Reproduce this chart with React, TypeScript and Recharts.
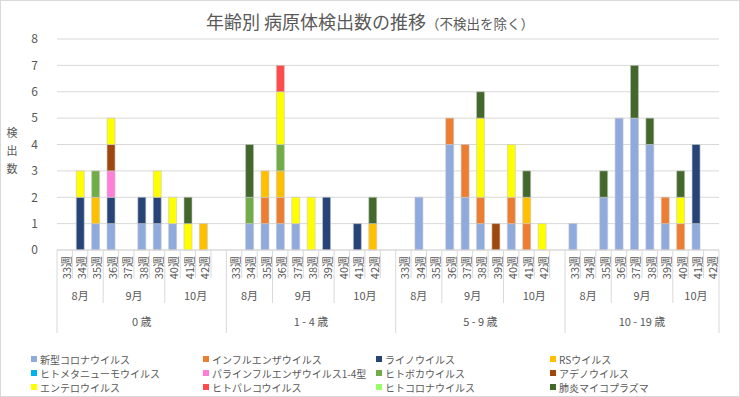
import React from 'react';
import { BarChart, Bar, XAxis, YAxis, CartesianGrid, Legend } from 'recharts';

const ageGroups = ['0 歳', '1 - 4 歳', '5 - 9 歳', '10 - 19 歳'];
const weeks = ['33週', '34週', '35週', '36週', '37週', '38週', '39週', '40週', '41週', '42週'];
const weekMonths = ['8月', '8月', '8月', '9月', '9月', '9月', '9月', '10月', '10月', '10月'];

const seriesNames = [
  '新型コロナウイルス',
  'インフルエンザウイルス',
  'ライノウイルス',
  'RSウイルス',
  'ヒトメタニューモウイルス',
  'パラインフルエンザウイルス1-4型',
  'ヒトボカウイルス',
  'アデノウイルス',
  'エンテロウイルス',
  'ヒトパレコウイルス',
  'ヒトコロナウイルス',
  '肺炎マイコプラズマ',
];

const seriesColors = [
  '#8FAADC', '#ED7D31', '#264478', '#FFC000',
  '#00B0F0', '#FF7FD8', '#70AD47', '#9E480E',
  '#FFFF00', '#FF4B4B', '#99FF66', '#43682B',
];

// values per age group, weeks 33..42
const covid = [
  [0, 0, 1, 1, 0, 1, 1, 1, 0, 0],
  [0, 1, 1, 1, 1, 0, 0, 0, 0, 0],
  [0, 2, 0, 4, 2, 1, 0, 1, 0, 0],
  [1, 0, 2, 5, 5, 4, 1, 0, 1, 0],
];
const influenza = [
  [0, 0, 0, 0, 0, 0, 0, 0, 0, 0],
  [0, 0, 1, 1, 0, 0, 0, 0, 0, 0],
  [0, 0, 0, 1, 2, 1, 0, 1, 1, 0],
  [0, 0, 0, 0, 0, 0, 1, 1, 0, 0],
];
const rhino = [
  [0, 2, 0, 1, 0, 1, 1, 0, 0, 0],
  [0, 0, 0, 0, 0, 0, 2, 0, 1, 0],
  [0, 0, 0, 0, 0, 0, 0, 0, 0, 0],
  [0, 0, 0, 0, 0, 0, 0, 0, 3, 0],
];
const rsv = [
  [0, 0, 1, 0, 0, 0, 0, 0, 0, 1],
  [0, 0, 1, 1, 0, 0, 0, 0, 0, 1],
  [0, 0, 0, 0, 0, 0, 0, 0, 1, 0],
  [0, 0, 0, 0, 0, 0, 0, 0, 0, 0],
];
const hmpv = [
  [0, 0, 0, 0, 0, 0, 0, 0, 0, 0],
  [0, 0, 0, 0, 0, 0, 0, 0, 0, 0],
  [0, 0, 0, 0, 0, 0, 0, 0, 0, 0],
  [0, 0, 0, 0, 0, 0, 0, 0, 0, 0],
];
const parainfluenza = [
  [0, 0, 0, 1, 0, 0, 0, 0, 0, 0],
  [0, 0, 0, 0, 0, 0, 0, 0, 0, 0],
  [0, 0, 0, 0, 0, 0, 0, 0, 0, 0],
  [0, 0, 0, 0, 0, 0, 0, 0, 0, 0],
];
const boca = [
  [0, 0, 1, 0, 0, 0, 0, 0, 0, 0],
  [0, 1, 0, 1, 0, 0, 0, 0, 0, 0],
  [0, 0, 0, 0, 0, 0, 0, 0, 0, 0],
  [0, 0, 0, 0, 0, 0, 0, 0, 0, 0],
];
const adeno = [
  [0, 0, 0, 1, 0, 0, 0, 0, 0, 0],
  [0, 0, 0, 0, 0, 0, 0, 0, 0, 0],
  [0, 0, 0, 0, 0, 0, 1, 0, 0, 0],
  [0, 0, 0, 0, 0, 0, 0, 0, 0, 0],
];
const entero = [
  [0, 1, 0, 1, 0, 0, 1, 1, 1, 0],
  [0, 0, 0, 2, 1, 2, 0, 0, 0, 0],
  [0, 0, 0, 0, 0, 3, 0, 2, 0, 1],
  [0, 0, 0, 0, 0, 0, 0, 1, 0, 0],
];
const parecho = [
  [0, 0, 0, 0, 0, 0, 0, 0, 0, 0],
  [0, 0, 0, 1, 0, 0, 0, 0, 0, 0],
  [0, 0, 0, 0, 0, 0, 0, 0, 0, 0],
  [0, 0, 0, 0, 0, 0, 0, 0, 0, 0],
];
const humanCorona = [
  [0, 0, 0, 0, 0, 0, 0, 0, 0, 0],
  [0, 0, 0, 0, 0, 0, 0, 0, 0, 0],
  [0, 0, 0, 0, 0, 0, 0, 0, 0, 0],
  [0, 0, 0, 0, 0, 0, 0, 0, 0, 0],
];
const mycoplasma = [
  [0, 0, 0, 0, 0, 0, 0, 0, 1, 0],
  [0, 2, 0, 0, 0, 0, 0, 0, 0, 1],
  [0, 0, 0, 0, 0, 1, 0, 0, 1, 0],
  [0, 0, 1, 0, 2, 1, 0, 1, 0, 0],
];

const seriesValues = [
  covid, influenza, rhino, rsv, hmpv, parainfluenza,
  boca, adeno, entero, parecho, humanCorona, mycoplasma,
];

const yTicks = [0, 1, 2, 3, 4, 5, 6, 7, 8];

// layout
const W = 740;
const H = 397;
const MARGIN = { top: 39, right: 21, left: 12, bottom: 64 };
const Y_AXIS_W = 45;
const X_AXIS_H = 83;
const PLOT_LEFT = MARGIN.left + Y_AXIS_W;
const PLOT_W = W - PLOT_LEFT - MARGIN.right;
const PLOT_BOTTOM = H - MARGIN.bottom - X_AXIS_H;
const FONT = "'Noto Sans CJK JP', 'Noto Sans', sans-serif";
const TEXT = '#595959';
const LINE = '#D9D9D9';

type Row = { cat: string; age: number; week: string; month: string; blank: boolean; [k: string]: any };

const rows: Row[] = [];
ageGroups.forEach((_, g) => {
  weeks.forEach((wk, w) => {
    const row: Row = { cat: `${g}-${wk}`, age: g, week: wk, month: weekMonths[w], blank: false };
    seriesNames.forEach((_, s) => {
      row[`s${s}`] = seriesValues[s][g][w];
    });
    rows.push(row);
  });
  // Excel leaves an empty category between age groups
  if (g < ageGroups.length - 1) {
    const blank: Row = { cat: `${g}-blank`, age: g, week: '', month: weekMonths[weekMonths.length - 1], blank: true };
    seriesNames.forEach((_, s) => {
      blank[`s${s}`] = 0;
    });
    rows.push(blank);
  }
});

const SLOT = PLOT_W / rows.length;

function XTick(props: any) {
  const { x, payload } = props;
  const i = rows.findIndex((r) => r.cat === payload.value);
  if (i < 0) return null;
  const r = rows[i];
  const left = x - SLOT / 2;
  const prev = rows[i - 1];
  const groupStart = !prev || prev.age !== r.age;
  const monthStart = groupStart || prev.month !== r.month;
  const lineEnd = groupStart ? PLOT_BOTTOM + 83 : monthStart ? PLOT_BOTTOM + 53 : PLOT_BOTTOM + 28;

  let monthLabel = null;
  if (monthStart) {
    let n = 0;
    while (rows[i + n] && rows[i + n].age === r.age && rows[i + n].month === r.month) n++;
    monthLabel = (
      <text x={left + (n * SLOT) / 2} y={PLOT_BOTTOM + 45} textAnchor="middle" dominantBaseline="central" fontSize={11} fill={TEXT} fontFamily={FONT}>
        {r.month}
      </text>
    );
  }
  let ageLabel = null;
  if (groupStart) {
    let n = 0;
    while (rows[i + n] && rows[i + n].age === r.age) n++;
    ageLabel = (
      <text x={left + (n * SLOT) / 2} y={PLOT_BOTTOM + 71} textAnchor="middle" dominantBaseline="central" fontSize={11} fill={TEXT} fontFamily={FONT}>
        {ageGroups[r.age]}
      </text>
    );
  }
  const last = i === rows.length - 1;
  return (
    <g>
      <line x1={left} x2={left} y1={PLOT_BOTTOM} y2={lineEnd} stroke={LINE} />
      {last && <line x1={x + SLOT / 2} x2={x + SLOT / 2} y1={PLOT_BOTTOM} y2={PLOT_BOTTOM + 83} stroke={LINE} />}
      {!r.blank && (
        <text
          x={x + 1}
          y={PLOT_BOTTOM + 6}
          transform={`rotate(-90 ${x + 1} ${PLOT_BOTTOM + 6})`}
          textAnchor="end"
          dominantBaseline="central"
          fontSize={11}
          fill={TEXT}
          fontFamily={FONT}
        >
          {r.week}
        </text>
      )}
      {monthLabel}
      {ageLabel}
    </g>
  );
}

function YTitle() {
  return (
    <g>
      {['検', '出', '数'].map((c, i) => (
        <text key={c} x={12} y={132 + i * 18} textAnchor="middle" dominantBaseline="central" fontSize={11} fill={TEXT} fontFamily={FONT}>
          {c}
        </text>
      ))}
    </g>
  );
}

const legendCols = [31, 203, 376, 550];
const legendRows = [359, 373, 387];
const LEGEND_TOP = 350;

function LegendBox() {
  return (
    <div style={{ position: 'relative', width: W, height: 45 }}>
      {seriesNames.map((name, i) => (
        <div
          key={name}
          style={{
            position: 'absolute',
            left: legendCols[i % 4],
            top: legendRows[Math.floor(i / 4)] - LEGEND_TOP - 7,
            height: 14,
            display: 'flex',
            alignItems: 'center',
            fontSize: 10,
            color: TEXT,
            fontFamily: FONT,
            whiteSpace: 'nowrap',
          }}
        >
          <span style={{ width: 6, height: 6, background: seriesColors[i], marginRight: 3, display: 'inline-block' }} />
          {name}
        </div>
      ))}
    </div>
  );
}

export default function App() {
  return (
    <div style={{ position: 'absolute', left: 0, top: 0, width: W, height: H, background: '#fff', fontFamily: FONT }}>
      <div style={{ position: 'absolute', left: 0, top: 8, width: W, textAlign: 'center', color: TEXT, whiteSpace: 'nowrap' }}>
        <span style={{ fontSize: 18 }}>年齢別 病原体検出数の推移</span>
        <span style={{ fontSize: 13.5 }}>（不検出を除く）</span>
      </div>
      <BarChart width={W} height={H} data={rows} margin={MARGIN} barCategoryGap="25%">
        <CartesianGrid vertical={false} stroke={LINE} />
        <XAxis
          dataKey="cat"
          interval={0}
          height={X_AXIS_H}
          tickLine={false}
          axisLine={{ stroke: LINE }}
          tick={<XTick />}
        />
        <YAxis
          width={Y_AXIS_W}
          domain={[0, 8]}
          ticks={yTicks}
          tickLine={false}
          axisLine={false}
          tickMargin={13}
          tick={{ fontSize: 12, fill: TEXT, fontFamily: FONT }}
          label={{ content: () => <YTitle /> }}
        />
        <Legend
          verticalAlign="middle"
          layout="horizontal"
          wrapperStyle={{ position: 'absolute', top: LEGEND_TOP, left: 0, width: W }}
          content={() => <LegendBox />}
        />
        {seriesNames.map((name, i) => (
          <Bar
            key={name}
            name={name}
            dataKey={`s${i}`}
            stackId="a"
            fill={seriesColors[i]}
            stroke="#C8C8C8"
            strokeWidth={0.6}
            isAnimationActive={false}
          />
        ))}
      </BarChart>
      <div style={{ position: 'absolute', left: 0, top: 0, width: W, height: H, boxSizing: 'border-box', border: `1px solid ${LINE}`, pointerEvents: 'none' }} />
    </div>
  );
}
